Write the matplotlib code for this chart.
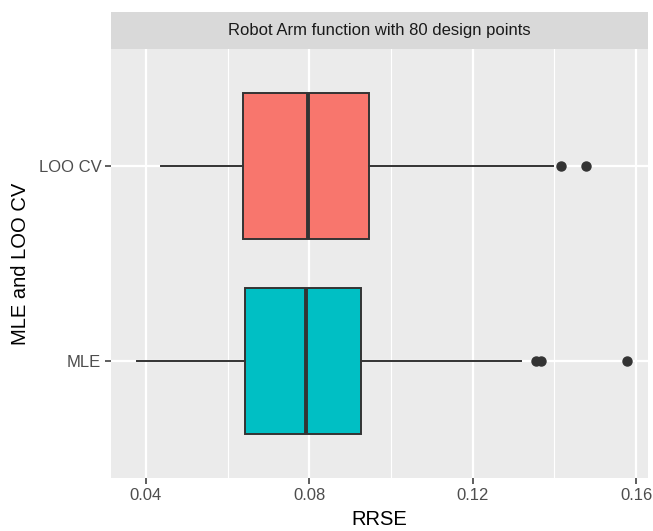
import matplotlib
matplotlib.use("Agg")
import matplotlib.pyplot as plt
from matplotlib.ticker import MultipleLocator

plt.rcParams["font.family"] = ["Liberation Sans", "DejaVu Sans"]

# RRSE summaries per estimation method (bottom to top)
methods = ["MLE", "LOO CV"]
whisker_lo = [0.0378, 0.0438]
q1 = [0.0642, 0.0638]
median = [0.0791, 0.0797]
q3 = [0.0926, 0.0946]
whisker_hi = [0.1317, 0.1397]
outliers = [[0.1356, 0.1367, 0.1577], [0.1416, 0.1476]]
fills = ["#00BFC4", "#F8766D"]

title = "Robot Arm function with 80 design points"

W, H = 653, 531
fig = plt.figure(figsize=(W / 100, H / 100), dpi=100)
fig.patch.set_facecolor("white")

left, right = 111 / W, 648 / W
bottom, top = 1 - 478 / H, 1 - 49 / H
ax = fig.add_axes([left, bottom, right - left, top - bottom])
strip = fig.add_axes([left, top, right - left, 37 / H])

ax.set_facecolor("#EBEBEB")
for s in ax.spines.values():
    s.set_visible(False)

stats = []
for i in range(len(methods)):
    stats.append(dict(whislo=whisker_lo[i], q1=q1[i], med=median[i], q3=q3[i],
                      whishi=whisker_hi[i], fliers=outliers[i]))

bp = ax.bxp(stats, positions=[1, 2], widths=0.75, orientation="horizontal",
            patch_artist=True, showcaps=False,
            boxprops=dict(edgecolor="#333333", linewidth=1.4),
            medianprops=dict(color="#333333", linewidth=2.8),
            whiskerprops=dict(color="#333333", linewidth=1.4),
            flierprops=dict(marker="o", markersize=6.5, markerfacecolor="#333333",
                            markeredgecolor="#333333"))
for patch, c in zip(bp["boxes"], fills):
    patch.set_facecolor(c)

ax.set_xlim(0.03144, 0.1629)
ax.set_ylim(0.4, 2.6)
ax.set_xticks([0.04, 0.08, 0.12, 0.16])
ax.set_xticklabels(["0.04", "0.08", "0.12", "0.16"])
ax.xaxis.set_minor_locator(MultipleLocator(0.02))
ax.set_yticks([1, 2])
ax.set_yticklabels(methods)

ax.grid(which="major", color="white", linewidth=1.6)
ax.grid(which="minor", axis="x", color="white", linewidth=0.8)
ax.set_axisbelow(True)

ax.tick_params(axis="both", which="major", length=4, width=1.1, color="#333333",
               labelcolor="#4D4D4D", labelsize=12, pad=3)
ax.tick_params(axis="x", which="minor", length=0)

ax.set_xlabel("RRSE", fontsize=14.5, color="black", labelpad=5)
ax.set_ylabel("MLE and LOO CV", fontsize=14.5, color="black", labelpad=6)

strip.set_facecolor("#D9D9D9")
strip.set_xticks([])
strip.set_yticks([])
for s in strip.spines.values():
    s.set_visible(False)
strip.text(0.5, 0.5, title, ha="center", va="center", fontsize=12, color="#1A1A1A",
           transform=strip.transAxes)

fig.savefig("out.png", dpi=100)
